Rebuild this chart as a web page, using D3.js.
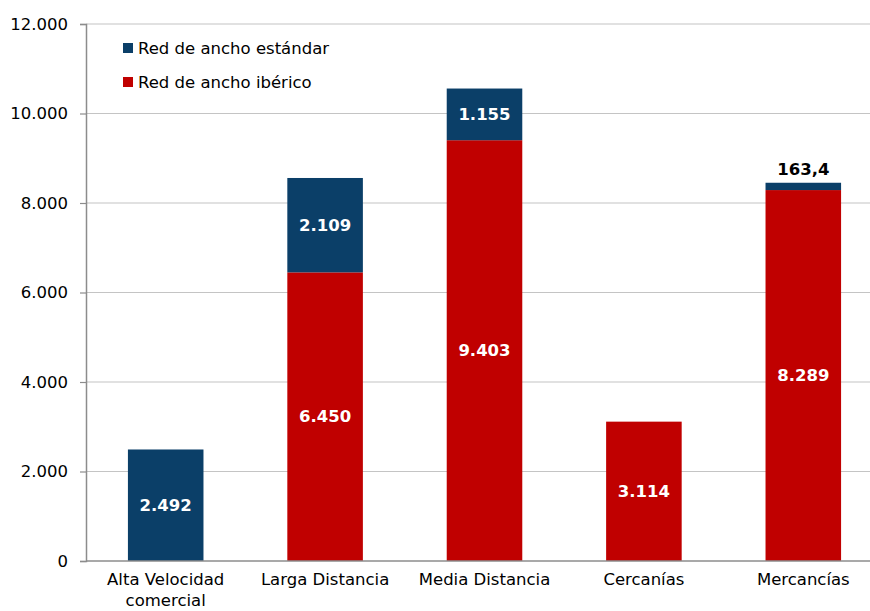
<!DOCTYPE html>
<html>
<head>
  <script src="https://d3js.org/d3.v7.min.js"></script>
  <style>
    body { margin: 0; background: #fff; }
    svg { font-family: "DejaVu Sans", sans-serif; }
    .tick text { font-size: 16.5px; fill: #000; }
    .value { font-size: 16.5px; font-weight: bold; }
  </style>
</head>
<body>
  <svg width="870" height="611"></svg>
  <script>
    // data
    const categories = ["Alta Velocidad\ncomercial", "Larga Distancia", "Media Distancia", "Cercanías", "Mercancías"];
    const estandar = [2492, 2109, 1155, 0, 163.4];
    const iberico = [0, 6450, 9403, 3114, 8289];
    const yTicks = [0, 2000, 4000, 6000, 8000, 10000, 12000];
    const seriesNames = ["Red de ancho estándar", "Red de ancho ibérico"];
    const colors = { estandar: "#0b3f68", iberico: "#c00000" };

    const svg = d3.select("svg");
    const plotLeft = 86, plotRight = 883, plotTop = 24, plotBottom = 561;

    const x = d3.scaleBand().domain(categories).range([plotLeft, plotRight]).paddingInner(0.526).paddingOuter(0.263);
    const y = d3.scaleLinear().domain([0, 12000]).range([plotBottom, plotTop]);

    const fmt = v => d3.format(",")(v).replace(/,/g, ".");

    // gridlines
    svg.append("g").selectAll("line").data(yTicks.slice(1)).enter().append("line")
      .attr("x1", plotLeft).attr("x2", 870)
      .attr("y1", d => y(d)).attr("y2", d => y(d))
      .attr("stroke", "#c4c4c4").attr("stroke-width", 1.2);

    // y axis
    const yAxis = svg.append("g").attr("transform", `translate(${plotLeft},0)`)
      .call(d3.axisLeft(y).tickValues(yTicks).tickFormat(fmt).tickSize(6).tickPadding(12));
    yAxis.select(".domain").attr("stroke", "#8c8c8c").attr("stroke-width", 1.5);
    yAxis.selectAll(".tick line").attr("stroke", "#8c8c8c").attr("stroke-width", 1.2);
    yAxis.selectAll(".tick text").attr("font-family", "DejaVu Sans").attr("font-size", "16.5px");

    // stacked rows
    const rows = categories.map((c, i) => ({ cat: c, estandar: estandar[i], iberico: iberico[i] }));
    const stack = d3.stack().keys(["iberico", "estandar"])(rows);

    const bars = svg.append("g");
    stack.forEach(layer => {
      bars.selectAll(null).data(layer).enter().append("rect")
        .attr("x", d => x(d.data.cat))
        .attr("width", x.bandwidth())
        .attr("y", d => y(d[1]))
        .attr("height", d => y(d[0]) - y(d[1]))
        .attr("fill", colors[layer.key]);
    });

    // value labels
    stack.forEach(layer => {
      layer.forEach(d => {
        const v = d.data[layer.key];
        if (!v) return;
        const cx = x(d.data.cat) + x.bandwidth() / 2;
        const small = v < 500;
        svg.append("text").attr("class", "value")
          .attr("x", cx)
          .attr("y", small ? y(d[1]) - 8 : (y(d[0]) + y(d[1])) / 2)
          .attr("dy", small ? 0 : "0.35em")
          .attr("text-anchor", "middle")
          .attr("fill", small ? "#000" : "#fff")
          .text(Number.isInteger(v) ? fmt(v) : String(v).replace(".", ","));
      });
    });

    // x axis
    svg.append("line").attr("x1", plotLeft).attr("x2", 870).attr("y1", plotBottom).attr("y2", plotBottom)
      .attr("stroke", "#8c8c8c").attr("stroke-width", 1.5);
    categories.forEach(c => {
      const t = svg.append("text").attr("x", x(c) + x.bandwidth() / 2).attr("y", 585)
        .attr("text-anchor", "middle").attr("font-size", "16.5px").attr("fill", "#000");
      c.split("\n").forEach((line, i) => {
        t.append("tspan").attr("x", x(c) + x.bandwidth() / 2).attr("dy", i ? 21 : 0).text(line);
      });
    });

    // legend
    const legend = svg.append("g");
    [["estandar", seriesNames[0]], ["iberico", seriesNames[1]]].forEach((s, i) => {
      const ly = 48 + i * 34;
      legend.append("rect").attr("x", 123).attr("y", ly - 5).attr("width", 10).attr("height", 10).attr("fill", colors[s[0]]);
      legend.append("text").attr("x", 138).attr("y", ly).attr("dy", "0.35em")
        .attr("font-size", "16.5px").attr("fill", "#000").text(s[1]);
    });
  </script>
</body>
</html>
